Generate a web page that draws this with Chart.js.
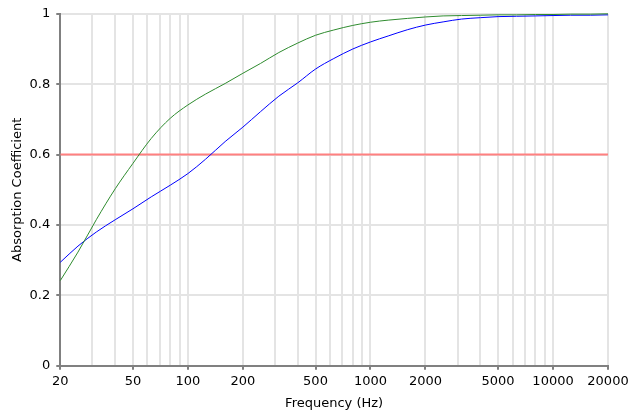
<!DOCTYPE html>
<html>
<head>
<meta charset="utf-8">
<script src="https://cdn.jsdelivr.net/npm/chart.js@4/dist/chart.umd.min.js"></script>
<style>
  html, body { margin: 0; padding: 0; background: #fff; }
  canvas { display: block; }
</style>
</head>
<body>
<canvas id="myChart" width="640" height="415"></canvas>
<script>
// frequenze (1/3 ottava) e coefficienti
const frequenze = [20, 25, 31.5, 40, 50, 63, 80, 100, 125, 160, 200, 250, 315, 400, 500, 630, 800, 1000,
  1250, 1600, 2000, 2500, 3150, 4000, 5000, 6300, 8000, 10000, 12500, 16000, 20000];
const curvaVerde = [0.242, 0.323, 0.415, 0.503, 0.575, 0.646, 0.703, 0.741, 0.772, 0.802, 0.831, 0.859, 0.89, 0.917, 0.939,
  0.954, 0.967, 0.976, 0.982, 0.987, 0.991, 0.994, 0.995, 0.996, 0.997, 0.997, 0.998, 0.998, 0.999, 0.999, 1.0];
const curvaBlu = [0.294, 0.340, 0.380, 0.415, 0.446, 0.480, 0.513, 0.546, 0.587, 0.637, 0.678, 0.722, 0.766, 0.804, 0.843,
  0.873, 0.90, 0.92, 0.937, 0.955, 0.968, 0.977, 0.985, 0.989, 0.992, 0.993, 0.994, 0.995, 0.996, 0.996, 0.997];
const soglia = 0.6;

// gridlines a ogni multiplo, etichette solo su alcuni
const tickGriglia = [20, 30, 40, 50, 60, 70, 80, 90, 100, 200, 300, 400, 500, 600, 700, 800, 900, 1000,
  2000, 3000, 4000, 5000, 6000, 7000, 8000, 9000, 10000, 20000];
const tickEtichette = [20, 50, 100, 200, 500, 1000, 2000, 5000, 10000, 20000];
const tickY = [0, 0.2, 0.4, 0.6, 0.8, 1];

const punti = (vals) => frequenze.map((f, i) => ({ x: f, y: vals[i] }));

const font = { family: 'Verdana, "DejaVu Sans", sans-serif', size: 13 };
const ctx = document.getElementById('myChart');

new Chart(ctx, {
  type: 'line',
  data: {
    datasets: [
      {
        data: punti(curvaVerde),
        borderColor: '#2e8b2e',
        borderWidth: 1,
        pointRadius: 0,
        cubicInterpolationMode: 'monotone',
        clip: 4
      },
      {
        data: punti(curvaBlu),
        borderColor: '#0000ff',
        borderWidth: 1,
        pointRadius: 0,
        cubicInterpolationMode: 'monotone',
        clip: 4
      },
      {
        data: [{ x: frequenze[0], y: soglia }, { x: frequenze[frequenze.length - 1], y: soglia }],
        borderColor: '#ff8080',
        borderWidth: 2,
        pointRadius: 0
      }
    ]
  },
  options: {
    responsive: false,
    animation: false,
    devicePixelRatio: 1,
    layout: { padding: { top: 11, right: 32, left: 10, bottom: 4 } },
    plugins: { legend: { display: false }, tooltip: { enabled: false } },
    scales: {
      x: {
        type: 'logarithmic',
        min: 20,
        max: 20000,
        afterBuildTicks: (scale) => { scale.ticks = tickGriglia.map(v => ({ value: v })); },
        ticks: {
          autoSkip: false,
          maxRotation: 0,
          color: '#000',
          font: font,
          padding: 4,
          callback: (v) => tickEtichette.includes(v) ? String(v) : ''
        },
        grid: {
          color: '#e4e4e4',
          lineWidth: 2,
          tickLength: 4,
          tickWidth: 2,
          tickColor: (c) => (c.tick && tickEtichette.includes(c.tick.value)) ? '#808080' : 'rgba(0,0,0,0)'
        },
        border: { color: '#808080', width: 2 },
        title: { display: true, text: 'Frequency (Hz)', color: '#000', font: font, padding: { top: 2, bottom: 0 } }
      },
      y: {
        min: 0,
        max: 1,
        afterBuildTicks: (scale) => { scale.ticks = tickY.map(v => ({ value: v })); },
        ticks: { color: '#000', font: font, padding: 6, callback: (v) => String(v) },
        grid: { color: '#e4e4e4', lineWidth: 2, tickLength: 4, tickWidth: 2, tickColor: '#808080' },
        border: { color: '#808080', width: 2 },
        title: { display: true, text: 'Absorption Coefficient', color: '#000', font: font, padding: { top: 0, bottom: -2 } }
      }
    }
  }
});
</script>
</body>
</html>
